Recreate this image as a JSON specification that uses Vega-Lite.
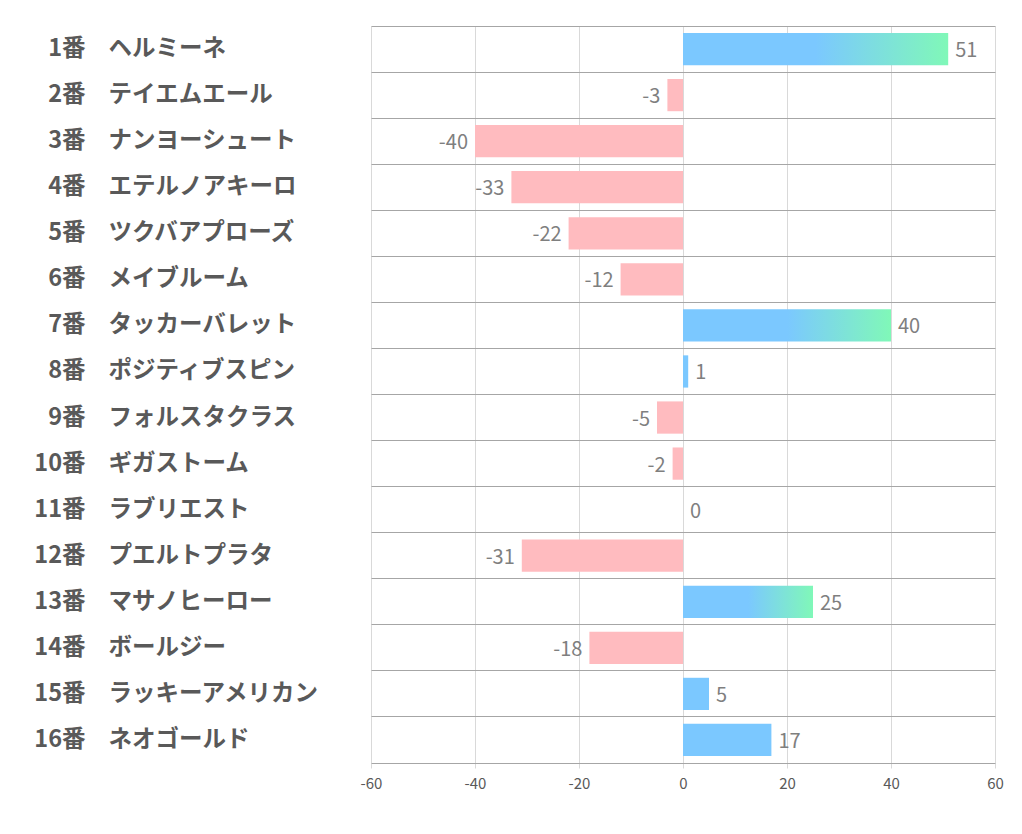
{
  "$schema": "https://vega.github.io/schema/vega-lite/v6.json",
  "width": 624,
  "height": 737,
  "autosize": "none",
  "padding": {"left": 371, "top": 26, "right": 27, "bottom": 71},
  "background": "white",
  "config": {"view": {"stroke": null}, "font": "Noto Sans CJK JP"},
  "data": {"values": [
    {"uma": "1番 ヘルミーネ", "v": 51},
    {"uma": "2番 テイエムエール", "v": -3},
    {"uma": "3番 ナンヨーシュート", "v": -40},
    {"uma": "4番 エテルノアキーロ", "v": -33},
    {"uma": "5番 ツクバアプローズ", "v": -22},
    {"uma": "6番 メイブルーム", "v": -12},
    {"uma": "7番 タッカーバレット", "v": 40},
    {"uma": "8番 ポジティブスピン", "v": 1},
    {"uma": "9番 フォルスタクラス", "v": -5},
    {"uma": "10番 ギガストーム", "v": -2},
    {"uma": "11番 ラブリエスト", "v": 0},
    {"uma": "12番 プエルトプラタ", "v": -31},
    {"uma": "13番 マサノヒーロー", "v": 25},
    {"uma": "14番 ボールジー", "v": -18},
    {"uma": "15番 ラッキーアメリカン", "v": 5},
    {"uma": "16番 ネオゴールド", "v": 17}
  ]},
  "resolve": {"axis": {"y": "independent"}},
  "layer": [
    {
      "mark": {"type": "bar", "height": {"band": 0.7}},
      "encoding": {
        "y": {"field": "uma", "type": "nominal", "sort": null,
          "scale": {"paddingInner": 0, "paddingOuter": 0},
          "axis": {"orient": "left", "title": null, "labelExpr": "split(datum.value, ' ')[1]",
            "labelAlign": "left", "labelPadding": 263, "labelLimit": 0, "ticks": false, "domain": false, "grid": false,
            "labelFontSize": 23.5, "labelFontWeight": "bold", "labelColor": "#595959"}},
        "x": {"field": "v", "type": "quantitative",
          "scale": {"domain": [-60, 60], "nice": false},
          "axis": {"title": null, "values": [-60, -40, -20, 0, 20, 40, 60], "grid": true,
            "labelExpr": "'' + datum.value", "labelFlush": false,
            "gridColor": "#d9d9d9", "domainColor": "#a6a6a6", "tickColor": "#d9d9d9", "tickSize": 5,
            "labelFontSize": 15, "labelColor": "#595959", "labelPadding": 8}},
        "fill": {
          "condition": [
            {"test": "datum.v < 0", "value": "#FFBBBF"},
            {"test": "datum.v >= 20", "value": {"gradient": "linear", "x1": 0, "x2": 1, "y1": 0, "y2": 0,
              "stops": [{"offset": 0, "color": "#7BC8FF"}, {"offset": 0.5, "color": "#7BC8FF"}, {"offset": 1, "color": "#80F8B8"}]}}
          ],
          "value": "#7BC8FF"
        }
      }
    },
    {
      "transform": [{"filter": "datum.v >= 0"}],
      "mark": {"type": "text", "align": "left", "dx": 7, "dy": 2, "fontSize": 20, "color": "#7f7f7f", "baseline": "middle"},
      "encoding": {
        "y": {"field": "uma", "type": "nominal", "sort": null,
          "axis": {"orient": "left", "title": null, "labelExpr": "split(datum.value, ' ')[0]",
            "labelAlign": "right", "labelPadding": 286, "ticks": false, "domain": false, "grid": false,
            "labelFontSize": 23.5, "labelFontWeight": "bold", "labelColor": "#595959"}},
        "x": {"field": "v", "type": "quantitative"},
        "text": {"field": "v", "type": "nominal"}
      }
    },
    {
      "transform": [{"filter": "datum.v < 0"}],
      "mark": {"type": "text", "align": "right", "dx": -7, "dy": 2, "fontSize": 20, "color": "#7f7f7f", "baseline": "middle"},
      "encoding": {
        "y": {"field": "uma", "type": "nominal", "sort": null,
          "axis": {"orient": "left", "title": null, "labels": false, "ticks": false, "domain": false,
            "grid": true, "gridColor": "#a6a6a6", "bandPosition": 0}},
        "x": {"field": "v", "type": "quantitative"},
        "text": {"field": "v", "type": "nominal"}
      }
    }
  ]
}
